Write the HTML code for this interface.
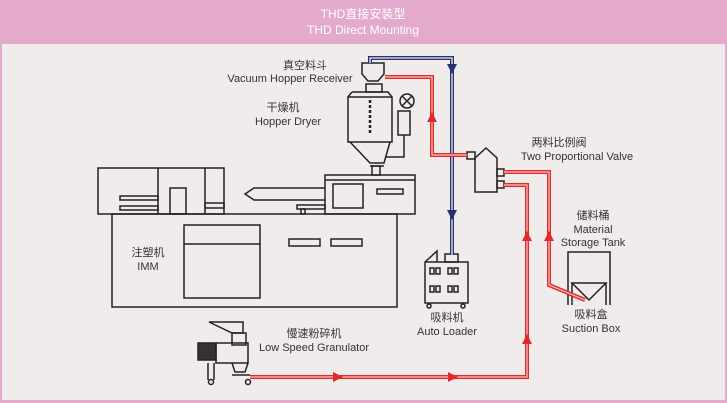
<!DOCTYPE html>
<html><head><meta charset="utf-8"><style>
html,body{margin:0;padding:0;}
body{width:727px;height:403px;overflow:hidden;background:#e3aacb;}
svg{display:block;}
text{font-family:"Liberation Sans","Noto Sans CJK SC",sans-serif;font-size:11px;fill:#333;text-anchor:middle;}
</style></head><body>
<svg width="727" height="403" viewBox="0 0 727 403" xmlns="http://www.w3.org/2000/svg">
<rect x="0" y="0" width="727" height="403" fill="#e3aacb"/>
<rect x="2" y="44" width="723" height="356" fill="#f0ecec"/>
<text x="363" y="18" style="fill:#fff;font-size:12px">THD直接安装型</text>
<text x="363" y="34" style="fill:#fff;font-size:12px">THD Direct Mounting</text>

<g fill="none" stroke="#222" stroke-width="1.5">
<!-- IMM -->
<rect x="98" y="168" width="126" height="46"/>
<line x1="158" y1="168" x2="158" y2="214"/><line x1="205" y1="168" x2="205" y2="214"/>
<rect x="120" y="196" width="38" height="4"/><rect x="120" y="206" width="38" height="4"/>
<rect x="170" y="188" width="16" height="26"/><rect x="205" y="203" width="19" height="5"/>
<path d="M325 188 H254 L245 194 L254 200 H325"/>
<rect x="297" y="205" width="28" height="4"/><rect x="301" y="209" width="4" height="5"/>
<rect x="325" y="175" width="90" height="39"/><line x1="325" y1="180" x2="415" y2="180"/>
<rect x="333" y="184" width="30" height="24"/><rect x="377" y="189" width="26" height="5"/>
<rect x="112" y="214" width="285" height="93"/>
<rect x="184" y="225" width="76" height="73"/><line x1="184" y1="244" x2="260" y2="244"/>
<rect x="289" y="239" width="31" height="7"/><rect x="331" y="239" width="31" height="7"/>
<!-- hopper dryer -->
<rect x="372" y="166" width="8" height="9"/>
<path d="M348 97 H392 V142 H348 Z M352 92 H388 L392 97 M348 97 L352 92"/>
<path d="M350 142 L370 163 H384 L390 142"/>
<line x1="370" y1="166" x2="384" y2="166"/>
<rect x="366" y="84" width="16" height="8"/>
<path d="M362 63 H384 V74 L378 81 H368 L362 74 Z"/>
<circle cx="407" cy="101" r="7"/><path d="M402 96 L412 106 M412 96 L402 106"/>
<rect x="398" y="111" width="12" height="24"/>
<path d="M404 135 V157 H386"/>
<line x1="370" y1="100" x2="370" y2="135" stroke-dasharray="3 2" stroke-width="2.5"/>
<!-- valve -->
<path d="M475 158 L486 148 L497 158 V192 H475 Z"/>
<rect x="497" y="169" width="7" height="7"/><rect x="497" y="181" width="7" height="7"/>
<rect x="467" y="152" width="8" height="7"/>
<!-- auto loader -->
<path d="M425 262 L437 251 V262"/>
<rect x="425" y="262" width="43" height="41"/>
<rect x="445" y="254" width="13" height="8"/>
<rect x="430" y="268" width="4" height="6"/><rect x="436" y="268" width="4" height="6"/><rect x="448" y="268" width="4" height="6"/><rect x="454" y="268" width="4" height="6"/>
<rect x="430" y="286" width="4" height="6"/><rect x="436" y="286" width="4" height="6"/><rect x="448" y="286" width="4" height="6"/><rect x="454" y="286" width="4" height="6"/>
<circle cx="429" cy="306" r="2"/><circle cx="463" cy="306" r="2"/>
<!-- storage tank -->
<path d="M568 305 V252 H610 V305 M572 283 H606 L589 300 Z M572 283 V305 M606 283 V305"/>
<!-- granulator -->
<path d="M209 322 H243 V333 H232 Z"/>
<rect x="232" y="333" width="14" height="12"/>
<rect x="216" y="343" width="32" height="20"/>
<rect x="198" y="343" width="18" height="17" fill="#333"/>
<path d="M232 363 L235 372 H245 L248 363"/>
<path d="M208 363 V380 M214 363 V380 M232 375 H250"/>
<circle cx="211" cy="382" r="2.5"/><circle cx="248" cy="382" r="2.5"/>
</g>

<!-- pipes -->
<g fill="none">
<path d="M370 63 V58 H452 V255" stroke="#2a3170" stroke-width="4"/>
<path d="M370 63 V58 H452 V255" stroke="#eee" stroke-width="1.3"/>
<path d="M385 77 H432 V155 H467" stroke="#e32a2a" stroke-width="4"/>
<path d="M385 77 H432 V155 H467" stroke="#f5c8c8" stroke-width="1.2"/>
<path d="M504 172 H549 V285 L585 300" stroke="#e32a2a" stroke-width="4"/>
<path d="M504 172 H549 V285 L585 300" stroke="#f5c8c8" stroke-width="1.2"/>
<path d="M504 185 H527 V377 H250" stroke="#e32a2a" stroke-width="4"/>
<path d="M504 185 H527 V377 H250" stroke="#f5c8c8" stroke-width="1.2"/>
</g>
<g fill="#e32a2a">
<path d="M432 112 L427 122 H437 Z"/>
<path d="M527 231 L522 241 H532 Z"/>
<path d="M549 231 L544 241 H554 Z"/>
<path d="M527 334 L522 344 H532 Z"/>
<path d="M343 377 L333 372 V382 Z"/>
<path d="M458 377 L448 372 V382 Z"/>
</g>
<g fill="#2a3170">
<path d="M452 74 L447 64 H457 Z"/>
<path d="M452 220 L447 210 H457 Z"/>
</g>

<text x="305" y="69">真空料斗</text>
<text x="290" y="82">Vacuum Hopper Receiver</text>
<text x="283" y="111">干燥机</text>
<text x="288" y="125">Hopper Dryer</text>
<text x="148" y="256">注塑机</text>
<text x="148" y="270">IMM</text>
<text x="559" y="146">两料比例阀</text>
<text x="577" y="160">Two Proportional Valve</text>
<text x="593" y="219">储料桶</text>
<text x="593" y="233">Material</text>
<text x="593" y="246">Storage Tank</text>
<text x="447" y="321">吸料机</text>
<text x="447" y="335">Auto Loader</text>
<text x="591" y="318">吸料盒</text>
<text x="591" y="332">Suction Box</text>
<text x="314" y="337">慢速粉碎机</text>
<text x="314" y="351">Low Speed Granulator</text>
</svg>
</body></html>
